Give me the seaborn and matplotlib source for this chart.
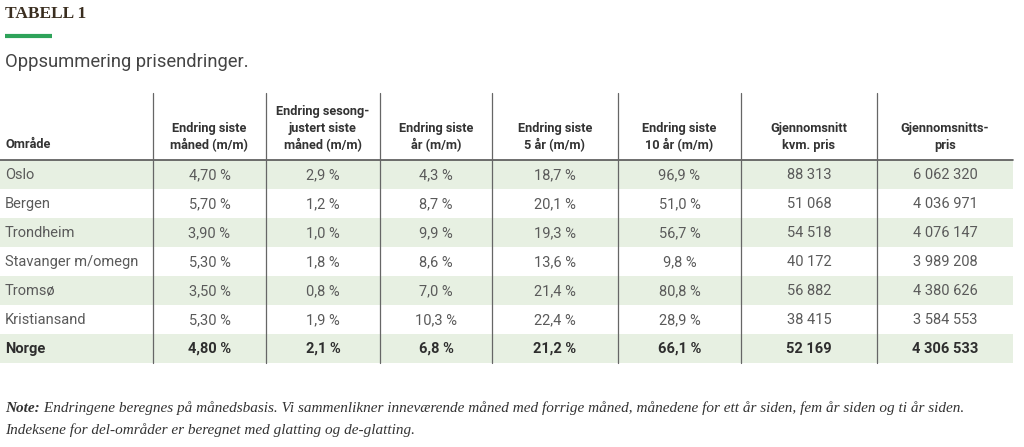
import matplotlib
matplotlib.use("Agg")
import matplotlib.pyplot as plt
from matplotlib.colors import ListedColormap
import numpy as np
import seaborn as sns

# table content
headers = ["Område",
           "Endring siste\nmåned (m/m)",
           "Endring sesong-\njustert siste\nmåned (m/m)",
           "Endring siste\når (m/m)",
           "Endring siste\n5 år (m/m)",
           "Endring siste\n10 år (m/m)",
           "Gjennomsnitt\nkvm. pris",
           "Gjennomsnitts-\npris"]
regions = ["Oslo", "Bergen", "Trondheim", "Stavanger m/omegn", "Tromsø", "Kristiansand", "Norge"]
chg_month = ["4,70 %", "5,70 %", "3,90 %", "5,30 %", "3,50 %", "5,30 %", "4,80 %"]
chg_month_adj = ["2,9 %", "1,2 %", "1,0 %", "1,8 %", "0,8 %", "1,9 %", "2,1 %"]
chg_year = ["4,3 %", "8,7 %", "9,9 %", "8,6 %", "7,0 %", "10,3 %", "6,8 %"]
chg_5y = ["18,7 %", "20,1 %", "19,3 %", "13,6 %", "21,4 %", "22,4 %", "21,2 %"]
chg_10y = ["96,9 %", "51,0 %", "56,7 %", "9,8 %", "80,8 %", "28,9 %", "66,1 %"]
sqm_price = ["88 313", "51 068", "54 518", "40 172", "56 882", "38 415", "52 169"]
avg_price = ["6 062 320", "4 036 971", "4 076 147", "3 989 208", "4 380 626", "3 584 553", "4 306 533"]

title = "TABELL 1"
subtitle = "Oppsummering prisendringer."
note_head = "Note:"
note_1 = " Endringene beregnes på månedsbasis. Vi sammenlikner inneværende måned med forrige måned, månedene for ett år siden, fem år siden og ti år siden."
note_2 = "Indeksene for del-områder er beregnet med glatting og de-glatting."

columns = [regions, chg_month, chg_month_adj, chg_year, chg_5y, chg_10y, sqm_price, avg_price]

sns.set_theme(style="white")
plt.rcParams["font.family"] = ["Roboto", "DejaVu Sans"]

W, H = 1024, 447
fig = plt.figure(figsize=(W / 100, H / 100), dpi=100)

# layout in pixels
col_edges = [0, 153, 266, 380, 492, 618, 741, 877, 1013]
body_top, row_h = 160, 29
n_rows = len(regions)
body_bot = body_top + row_h * n_rows

# row banding with a heatmap
band = np.array([[1 - (i % 2)] for i in range(n_rows)])
hax = fig.add_axes([col_edges[0] / W, 1 - body_bot / H, (col_edges[-1] - col_edges[0]) / W, (body_bot - body_top) / H])
sns.heatmap(band, ax=hax, cmap=ListedColormap(["white", "#e7f0e2"]), cbar=False,
            xticklabels=False, yticklabels=False, linewidths=0)
hax.axis("off")

ax = fig.add_axes([0, 0, 1, 1])
ax.set_facecolor("none")
ax.set_xlim(0, W)
ax.set_ylim(H, 0)
ax.axis("off")

# title block
ax.text(5, 14, title, fontsize=12.5, fontweight="bold", family="Liberation Serif",
        color="#3a2e20", va="center", ha="left")
ax.plot([5, 52], [36, 36], color="#2ea35a", lw=3, solid_capstyle="butt")
ax.text(5, 62, subtitle, fontsize=13.2, color="#444444", va="center", ha="left")

# header
line_gap = 16.5
for j, h in enumerate(headers):
    lines = h.split("\n")
    for k, ln in enumerate(lines):
        y = 145 - line_gap * (len(lines) - 1 - k)
        if j == 0:
            ax.text(5, y, ln, fontsize=9.2, fontweight="bold", color="#333333", va="center", ha="left")
        else:
            ax.text((col_edges[j] + col_edges[j + 1]) / 2, y, ln, fontsize=9.2, fontweight="bold",
                    color="#333333", va="center", ha="center")

# grid lines
ax.plot([col_edges[0], col_edges[-1]], [body_top, body_top], color="#555555", lw=1.2)
for x in col_edges[1:-1]:
    ax.plot([x, x], [93, body_bot], color="#666666", lw=0.9)

# body
for i in range(n_rows):
    y = body_top + row_h * (i + 0.5) + 0.5
    bold = regions[i] == "Norge"
    fw = "bold" if bold else "normal"
    c = "#2e2e2e" if bold else "#5a5a5a"
    for j, col in enumerate(columns):
        if j == 0:
            ax.text(5, y, col[i], fontsize=10.5, fontweight=fw, color=c, va="center", ha="left")
        else:
            ax.text((col_edges[j] + col_edges[j + 1]) / 2, y, col[i], fontsize=10.5, fontweight=fw,
                    color=c, va="center", ha="center")

# note
note_font = ["Liberation Serif", "DejaVu Serif"]
t = ax.text(5, 408, note_head, fontsize=11, fontweight="bold", style="italic", family=note_font,
            color="#333333", va="center", ha="left")
fig.canvas.draw()
bb = t.get_window_extent()
x_after = ax.transData.inverted().transform((bb.x1, bb.y0))[0]
ax.text(x_after, 408, note_1, fontsize=11, style="italic", family=note_font,
        color="#333333", va="center", ha="left")
ax.text(5, 430, note_2, fontsize=11, style="italic", family=note_font,
        color="#333333", va="center", ha="left")

fig.savefig("out.png", dpi=100)
